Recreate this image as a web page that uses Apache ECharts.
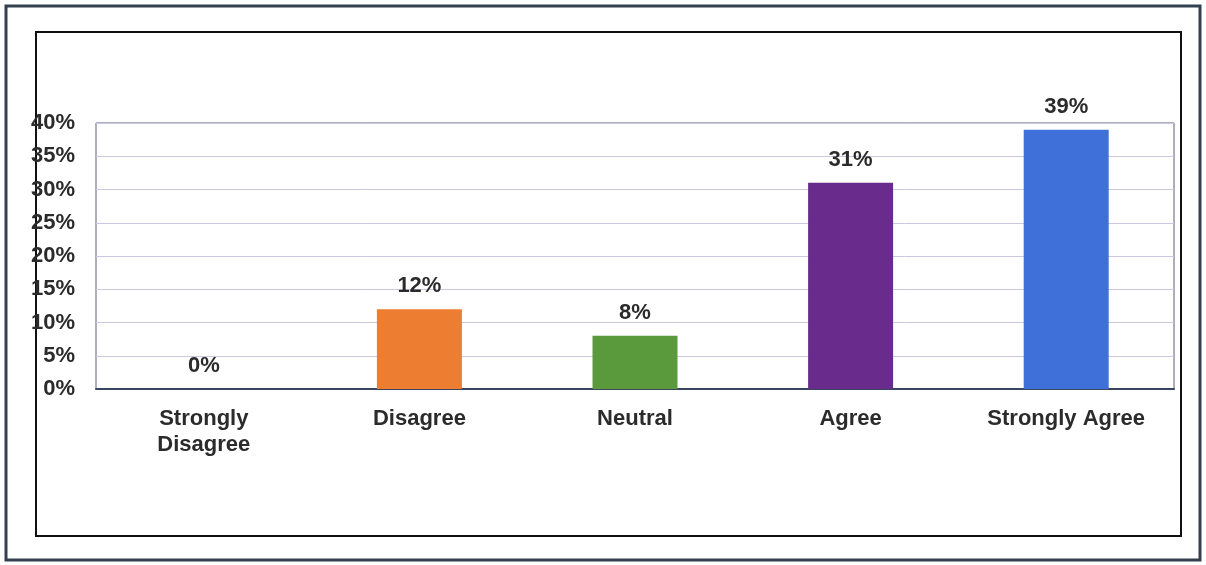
<!DOCTYPE html>
<html>
<head>
<meta charset="utf-8">
<script src="https://cdn.jsdelivr.net/npm/echarts@6/dist/echarts.min.js"></script>
<style>
html,body{margin:0;padding:0;background:#fff;}
#chart{width:1206px;height:565px;}
</style>
</head>
<body>
<div id="chart"></div>
<script>
const categories = ['Strongly\nDisagree', 'Disagree', 'Neutral', 'Agree', 'Strongly Agree'];
const values = [0, 12, 8, 31, 39];
const barColors = ['#ED7D31', '#ED7D31', '#5A9A3C', '#6A2C8C', '#3F6FD8'];
const yTicks = [0, 5, 10, 15, 20, 25, 30, 35, 40];

const chart = echarts.init(document.getElementById('chart'));
const font = '"Liberation Sans", Arial, sans-serif';
chart.setOption({
  animation: false,
  backgroundColor: '#fff',
  graphic: [
    { type: 'rect', shape: { x: 6, y: 6, width: 1194, height: 554 }, style: { fill: 'none', stroke: '#34404e', lineWidth: 3 }, z: 0 },
    { type: 'rect', shape: { x: 36, y: 32, width: 1145, height: 504 }, style: { fill: 'none', stroke: '#111', lineWidth: 2 }, z: 0 }
  ],
  grid: { left: 96, right: 32, top: 123, bottom: 176, show: true, borderColor: '#5a6078', borderWidth: 1, backgroundColor: 'transparent' },
  xAxis: {
    type: 'category',
    data: categories,
    axisLine: { show: true, lineStyle: { color: '#3a4660', width: 2 } },
    axisTick: { show: false },
    axisLabel: { interval: 0, margin: 17, fontFamily: font, fontWeight: 'bold', fontSize: 22, color: '#2b2b2b', lineHeight: 26 }
  },
  yAxis: {
    type: 'value',
    min: 0, max: 40, interval: 5,
    axisLine: { show: false },
    axisTick: { show: false },
    splitLine: { lineStyle: { color: '#c9cae0', width: 1 } },
    axisLabel: { margin: 21, fontFamily: font, fontWeight: 'bold', fontSize: 22, color: '#2b2b2b', formatter: v => yTicks.includes(v) ? v + '%' : '' }
  },
  series: [{
    type: 'bar',
    barWidth: 85,
    data: values.map((v, i) => ({ value: v, itemStyle: { color: barColors[i] } })),
    label: { show: true, position: 'top', distance: 12, fontFamily: font, fontWeight: 'bold', fontSize: 22, color: '#2b2b2b', formatter: p => p.value + '%' }
  }]
});
</script>
</body>
</html>
